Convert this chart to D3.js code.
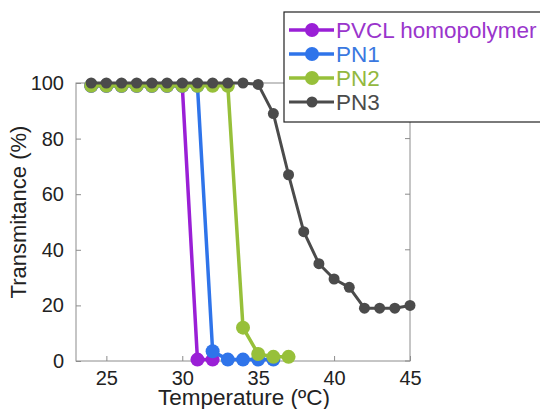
<!DOCTYPE html>
<html>
<head>
<meta charset="utf-8">
<script src="https://cdn.jsdelivr.net/npm/d3@7"></script>
<style>
  body { margin: 0; background: #fff; }
  svg { display: block; font-family: 'Liberation Sans', Arial, sans-serif; }
</style>
</head>
<body>
<div id="chart"></div>
<script>
// temperatures (°C) and transmittance (%)
const tPVCL = [24, 25, 26, 27, 28, 29, 30, 31, 32]
const vPVCL = [99, 99, 99, 99, 99, 99, 99, 0.5, 0.5]

const tPN1 = [24, 25, 26, 27, 28, 29, 30, 31, 32, 33, 34, 35, 36]
const vPN1 = [99, 99, 99, 99, 99, 99, 99, 99, 3.5, 0.5, 0.5, 0.5, 0.5]

const tPN2 = [24, 25, 26, 27, 28, 29, 30, 31, 32, 33, 34, 35, 36, 37]
const vPN2 = [99, 99, 99, 99, 99, 99, 99, 99, 99, 99, 12, 2.5, 1.5, 1.5]

const tPN3 = [24, 25, 26, 27, 28, 29, 30, 31, 32, 33, 34, 35, 36, 37, 38, 39, 40, 41, 42, 43, 44, 45]
const vPN3 = [100, 100, 100, 100, 100, 100, 100, 100, 100, 100, 100, 99.5, 89, 67, 46.5, 35, 29.5, 26.5, 19, 19, 19, 20]

const xTicks = [25, 30, 35, 40, 45]
const yTicks = [0, 20, 40, 60, 80, 100]

const series = [
  { name: 'PVCL homopolymer', t: tPVCL, v: vPVCL, color: '#9a1fd6', text: '#9a35cc', r: 7, w: 3.5 },
  { name: 'PN1', t: tPN1, v: vPN1, color: '#2f74ea', text: '#3a78e0', r: 7, w: 3.5 },
  { name: 'PN2', t: tPN2, v: vPN2, color: '#97c03a', text: '#93b840', r: 7, w: 3.5 },
  { name: 'PN3', t: tPN3, v: vPN3, color: '#4b4b4b', text: '#4b4b4b', r: 5.5, w: 3 }
]

const width = 540
const height = 409
const margin = { top: 83, right: 130, bottom: 48, left: 76 }

const svg = d3.select('#chart')
  .append('svg')
  .attr('width', width)
  .attr('height', height)

const x = d3.scaleLinear().domain([23, 45]).range([margin.left, width - margin.right])
const y = d3.scaleLinear().domain([0, 100]).range([height - margin.bottom, margin.top])

const axisColor = '#8c8c8c'

// box
svg.append('rect')
  .attr('x', x(23))
  .attr('y', y(100))
  .attr('width', x(45) - x(23))
  .attr('height', y(0) - y(100))
  .attr('fill', 'none')
  .attr('stroke', axisColor)
  .attr('stroke-width', 1)

// x axis
const gx = svg.append('g')
  .attr('transform', `translate(0,${y(0)})`)
  .call(d3.axisBottom(x).tickValues(xTicks).tickSize(-5).tickPadding(10))
gx.select('.domain').remove()
gx.selectAll('line').attr('stroke', axisColor)
gx.selectAll('text').attr('fill', '#222').style('font-size', '20px')

// y axis
const gy = svg.append('g')
  .attr('transform', `translate(${x(23)},0)`)
  .call(d3.axisLeft(y).tickValues(yTicks).tickSize(-5).tickPadding(12))
gy.select('.domain').remove()
gy.selectAll('line').attr('stroke', axisColor)
gy.selectAll('text').attr('fill', '#222').style('font-size', '20px')

// right-side ticks
svg.append('g')
  .selectAll('line')
  .data(yTicks)
  .join('line')
  .attr('x1', x(45))
  .attr('x2', x(45) - 5)
  .attr('y1', (d) => y(d))
  .attr('y2', (d) => y(d))
  .attr('stroke', axisColor)

// axis labels
svg.append('text')
  .attr('x', (x(23) + x(45)) / 2 + 1)
  .attr('y', 405)
  .attr('text-anchor', 'middle')
  .attr('fill', '#222')
  .style('font-size', '22.5px')
  .text('Temperature (ºC)')

svg.append('text')
  .attr('transform', `translate(26,${(y(0) + y(100)) / 2 - 10}) rotate(-90)`)
  .attr('text-anchor', 'middle')
  .attr('fill', '#222')
  .style('font-size', '22px')
  .text('Transmitance (%)')

// lines and markers
const line = d3.line()
  .x((d) => x(d[0]))
  .y((d) => y(d[1]))

series.forEach((s) => {
  const pts = s.t.map((t, i) => [t, s.v[i]])
  const g = svg.append('g')
  g.append('path')
    .datum(pts)
    .attr('d', line)
    .attr('fill', 'none')
    .attr('stroke', s.color)
    .attr('stroke-width', s.w)
    .attr('stroke-linejoin', 'round')
  g.selectAll('circle')
    .data(pts)
    .join('circle')
    .attr('cx', (d) => x(d[0]))
    .attr('cy', (d) => y(d[1]))
    .attr('r', s.r)
    .attr('fill', s.color)
})

// legend
const legend = svg.append('g').attr('transform', 'translate(284,12)')
legend.append('rect')
  .attr('x', 0)
  .attr('y', 0)
  .attr('width', 270)
  .attr('height', 110)
  .attr('fill', '#fff')
  .attr('stroke', '#222')
  .attr('stroke-width', 1.2)

const item = legend.selectAll('g.item')
  .data(series)
  .join('g')
  .attr('class', 'item')
  .attr('transform', (d, i) => `translate(0,${18 + i * 24})`)

item.append('line')
  .attr('x1', 5)
  .attr('x2', 50)
  .attr('stroke', (d) => d.color)
  .attr('stroke-width', (d) => d.w)
item.append('circle')
  .attr('cx', 28)
  .attr('r', (d) => d.r)
  .attr('fill', (d) => d.color)
item.append('text')
  .attr('x', 52)
  .attr('dy', '0.36em')
  .attr('fill', (d) => d.text)
  .style('font-size', '22.5px')
  .text((d) => d.name)
</script>
</body>
</html>
